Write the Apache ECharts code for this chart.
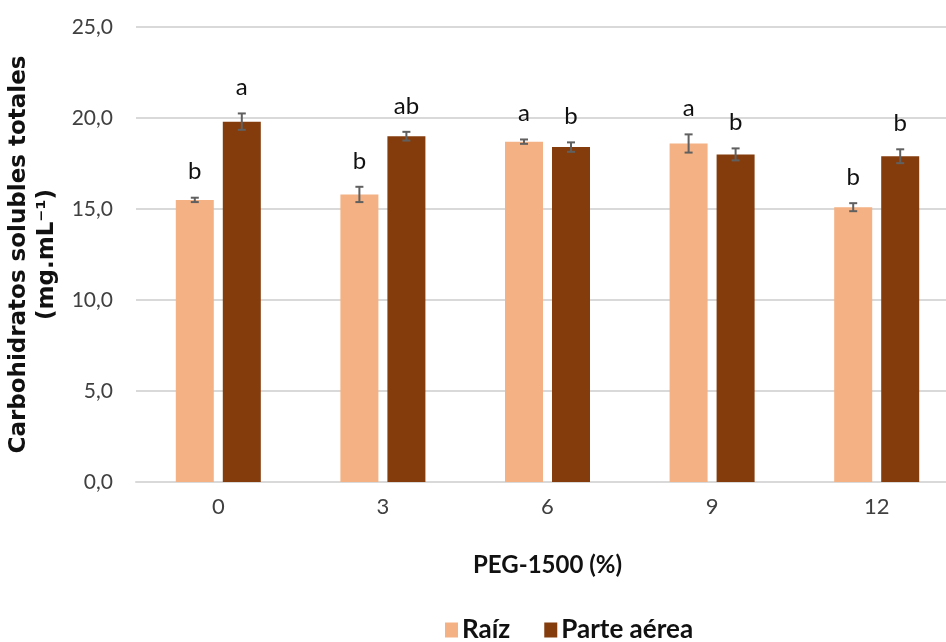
<!DOCTYPE html>
<html>
<head>
<meta charset="utf-8">
<script src="https://cdn.jsdelivr.net/npm/echarts@6/dist/echarts.min.js"></script>
<style>
  html, body { margin: 0; padding: 0; background: #fff; }
  #chart { width: 946px; height: 642px; }
</style>
</head>
<body>
<div id="chart"></div>
<script>
// PEG-1500 concentration levels (%)
const categories = ['0', '3', '6', '9', '12'];

// Total soluble carbohydrates (mg.mL-1), mean values
const raizValues = [15.5, 15.8, 18.7, 18.6, 15.1];
const aereaValues = [19.8, 19.0, 18.4, 18.0, 17.9];

// Standard error of each mean
const raizErrors = [0.12, 0.42, 0.12, 0.50, 0.22];
const aereaErrors = [0.45, 0.24, 0.26, 0.33, 0.38];

// Significance letters
const raizLetters = ['b', 'b', 'a', 'a', 'b'];
const aereaLetters = ['a', 'ab', 'b', 'b', 'b'];

// Y axis ticks
const yMin = 0, yMax = 25, yStep = 5;

const seriesNames = ['Raíz', 'Parte aérea'];
const colors = ['#F4B183', '#843C0C'];

const BAR_W = 38;
const BAR_GAP = 9;
const textFont = "Lato, 'Noto Sans', sans-serif";

function errorSeries(values, errors, letters, side) {
  const data = values.map((v, i) => [i, v, errors[i]]);
  return {
    type: 'custom',
    z: 5,
    silent: true,
    data: data,
    renderItem: function (params, api) {
      const i = api.value(0);
      const v = api.value(1);
      const e = api.value(2);
      const letter = letters[params.dataIndex];
      const dx = side * (BAR_W + BAR_GAP) / 2;
      const top = api.coord([i, v + e]);
      const bot = api.coord([i, v - e]);
      const x = top[0] + dx;
      const cap = 4;
      const st = { stroke: '#606060', lineWidth: 2 };
      return {
        type: 'group',
        children: [
          { type: 'line', shape: { x1: x, y1: top[1], x2: x, y2: bot[1] }, style: st },
          { type: 'line', shape: { x1: x - cap, y1: top[1], x2: x + cap, y2: top[1] }, style: st },
          { type: 'line', shape: { x1: x - cap, y1: bot[1], x2: x + cap, y2: bot[1] }, style: st },
          {
            type: 'text',
            style: {
              text: letter,
              x: x,
              y: top[1] - 14,
              align: 'center',
              verticalAlign: 'bottom',
              fill: '#111',
              font: "24px " + textFont
            }
          }
        ]
      };
    }
  };
}

const chart = echarts.init(document.getElementById('chart'), null, { renderer: 'canvas' });

chart.setOption({
  animation: false,
  backgroundColor: '#fff',
  grid: { left: 136, top: 27, width: 823, height: 455, containLabel: false, outerBoundsMode: 'none' },
  legend: {
    data: seriesNames,
    left: 440,
    top: 612,
    itemWidth: 13,
    itemHeight: 15,
    itemGap: 34,
    icon: 'rect',
    textStyle: { fontFamily: textFont, fontSize: 26, fontWeight: 'bold', color: '#111', padding: [0, 0, 0, -1] }
  },
  xAxis: {
    type: 'category',
    data: categories,
    name: 'PEG-1500 (%)',
    nameLocation: 'middle',
    nameGap: 71,
    nameTextStyle: { fontFamily: textFont, fontSize: 24, fontWeight: 'bold', color: '#111' },
    axisLine: { lineStyle: { color: '#D9D9D9', width: 2 } },
    axisTick: { show: false },
    axisLabel: { fontFamily: textFont, fontSize: 22, color: '#404040', margin: 14 }
  },
  yAxis: {
    type: 'value',
    min: yMin,
    max: yMax,
    interval: yStep,
    name: 'Carbohidratos solubles totales\n(mg.mL\u207B\u00B9)',
    nameLocation: 'middle',
    nameRotate: 90,
    nameGap: 68,
    nameTextStyle: { fontFamily: "'DejaVu Sans', sans-serif", fontSize: 23, fontWeight: 'bold', color: '#111', lineHeight: 28 },
    axisLine: { show: false },
    axisTick: { show: false },
    splitLine: { lineStyle: { color: '#D9D9D9', width: 2 } },
    axisLabel: {
      fontFamily: textFont,
      fontSize: 21,
      color: '#404040',
      margin: 23,
      formatter: v => v.toFixed(1).replace('.', ',')
    }
  },
  series: [
    {
      name: seriesNames[0],
      type: 'bar',
      data: raizValues,
      barWidth: BAR_W,
      barGap: (BAR_GAP / BAR_W * 100) + '%',
      itemStyle: { color: colors[0] }
    },
    {
      name: seriesNames[1],
      type: 'bar',
      data: aereaValues,
      barWidth: BAR_W,
      itemStyle: { color: colors[1] }
    },
    errorSeries(raizValues, raizErrors, raizLetters, -1),
    errorSeries(aereaValues, aereaErrors, aereaLetters, 1)
  ]
});
</script>
</body>
</html>
